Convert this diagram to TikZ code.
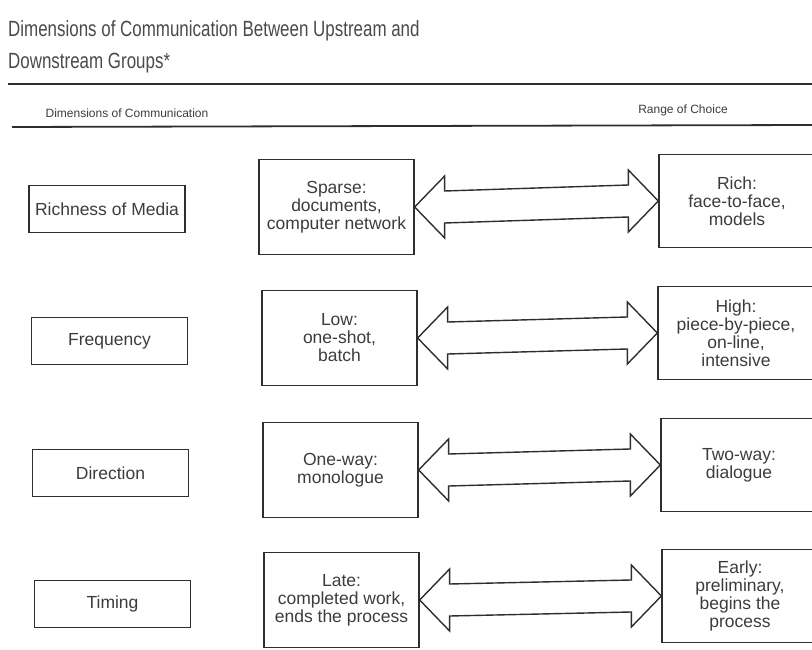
\documentclass[tikz,border=0pt]{standalone}
\usepackage{fontspec}
\usepackage{graphicx}
\setmainfont{Liberation Sans}
\usetikzlibrary{calc}
\definecolor{ink}{HTML}{2E2E2E}
\definecolor{txt}{HTML}{3C3C3C}
\definecolor{titlegray}{HTML}{4A4A4A}

% hollow double-headed arrow between two boxes
\newcommand\biarrow[2]{%
  \draw[dblarrow] (#1.east) -- ++(30,-31) -- ++(0,15)
    -- ($(#2.west)+(-30,-16)$) -- ++(0,-15) -- (#2.west)
    -- ++(-30,31) -- ++(0,-15)
    -- ($(#1.east)+(30,16)$) -- ++(0,15) -- cycle;}

\begin{document}
\begin{tikzpicture}[x=1pt,y=-1pt,
  dimbox/.style={draw=ink,line width=1.3pt,minimum width=156pt,minimum height=47pt,
    inner sep=0pt,font=\fontsize{17.5}{20}\selectfont,text=txt},
  choicebox/.style={draw=ink,line width=1.3pt,minimum width=155pt,minimum height=95pt,
    inner sep=0pt,align=center,font=\fontsize{17.5}{18}\selectfont,text=txt},
  dblarrow/.style={draw=ink,line width=1.4pt,fill=white,line join=miter},
  rule/.style={draw=ink,line width=2.2pt},
  colhead/.style={font=\fontsize{12}{14}\selectfont,text=txt,inner sep=0pt},
  titletext/.style={anchor=base west,inner sep=0pt,text=titlegray,
    font=\fontsize{22}{26}\selectfont},
]
\useasboundingbox (0,0) rectangle (812,650);
\clip (0,0) rectangle (812,650);

% title and header rules
\node[titletext] (title1) at (8,37)
  {\scalebox{0.77}[1]{Dimensions of Communication Between Upstream and}};
\node[titletext] (title2) at (8,69) {\scalebox{0.77}[1]{Downstream Groups*}};
\draw[rule] (8,84) -- (812,84);
\node[colhead] (hdim) at (127,113) {Dimensions of Communication};
\node[colhead] (hrange) at (683,110) {Range of Choice};
\draw[rule,line width=1.8pt] (12,127) -- (812,125);

% row 1
\node[dimbox] (d1) at (107,209) {Richness of Media};
\node[choicebox] (m1) at (336.5,207) {Sparse:\\documents,\\computer network};
\node[choicebox,minimum width=156pt,minimum height=93pt] (r1) at (737,201)
  {Rich:\\face-to-face,\\models};
\biarrow{m1}{r1}

% row 2
\node[dimbox] (d2) at (109.5,341) {Frequency};
\node[choicebox] (m2) at (339.5,338) {Low:\\one-shot,\\batch};
\node[choicebox,minimum width=156pt,minimum height=93pt] (r2) at (736,333)
  {High:\\piece-by-piece,\\on-line,\\intensive};
\biarrow{m2}{r2}

% row 3
\node[dimbox] (d3) at (110.5,473) {Direction};
\node[choicebox] (m3) at (340.5,470) {One-way:\\monologue};
\node[choicebox,minimum width=156pt,minimum height=93pt] (r3) at (739,465)
  {Two-way:\\dialogue};
\biarrow{m3}{r3}

% row 4
\node[dimbox] (d4) at (112.5,604) {Timing};
\node[choicebox] (m4) at (341.5,600) {Late:\\completed work,\\ends the process};
\node[choicebox,minimum width=156pt,minimum height=93pt] (r4) at (740,596)
  {Early:\\preliminary,\\begins the\\process};
\biarrow{m4}{r4}
\end{tikzpicture}
\end{document}
